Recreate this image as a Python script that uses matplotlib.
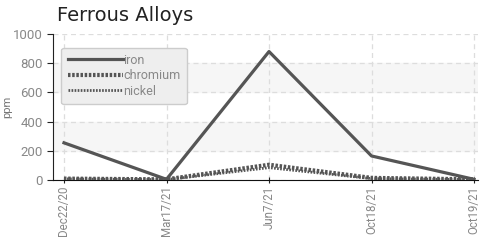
import matplotlib
matplotlib.use("Agg")
import matplotlib.pyplot as plt
import numpy as np

plt.rcParams['font.family'] = ['Roboto', 'DejaVu Sans']

dates = ["Dec22/20", "Mar17/21", "Jun7/21", "Oct18/21", "Oct19/21"]
iron = [255, 5, 880, 165, 5]
chromium = [10, 5, 105, 15, 5]
nickel = [8, 3, 85, 10, 3]

fig = plt.figure(figsize=(4.82, 2.43), dpi=100)
ax = fig.add_axes([0.110, 0.259, 0.882, 0.601])

x = np.arange(len(dates))
line_col = "#555555"

# alternating bands
for lo, hi in [(200, 400), (600, 800)]:
    ax.axhspan(lo, hi, color="#f6f6f6", zorder=0)

ax.plot(x, iron, color=line_col, lw=2.3, label="iron", zorder=3)
ax.plot(x, chromium, color=line_col, lw=3.0, ls=(0, (0.6, 0.4)), label="chromium", zorder=3)
ax.plot(x, nickel, color=line_col, lw=2.0, ls=(0, (0.6, 0.5)), label="nickel", zorder=3)

ax.set_xlim(-0.107, 4.04)
ax.set_ylim(0, 1000)
ax.set_yticks([0, 200, 400, 600, 800, 1000])
ax.set_xticks(x)
ax.set_xticklabels(dates, rotation=90, fontsize=8.3)
ax.tick_params(axis='both', colors="#222222", labelcolor="#888888")
ax.tick_params(axis='y', labelsize=9.5, length=4)
ax.tick_params(axis='x', length=4, direction='inout', pad=2)

ax.grid(True, ls=(0, (4, 3)), color="#dddddd", lw=0.9, zorder=1)
for s in ["top", "right"]:
    ax.spines[s].set_visible(False)
ax.spines["left"].set_color("#222222")
ax.spines["bottom"].set_color("#111111")

ax.set_ylabel("ppm", color="#777777", fontsize=8)
ax.yaxis.set_label_coords(-0.095, 0.5)
fig.text(0.118, 0.935, "Ferrous Alloys", fontsize=14, color="#222222",
         family=['DejaVu Sans'], va='center')

leg = ax.legend(loc="upper left", bbox_to_anchor=(0.005, 0.95), frameon=True,
                fancybox=True, handlelength=4.4, handletextpad=0.05,
                labelspacing=0.2, fontsize=9, borderpad=0.5)
leg.get_frame().set_facecolor("#eeeeee")
leg.get_frame().set_edgecolor("#cccccc")
leg.get_frame().set_alpha(1)
for t in leg.get_texts():
    t.set_color("#888888")

fig.savefig("out.png", dpi=100)
